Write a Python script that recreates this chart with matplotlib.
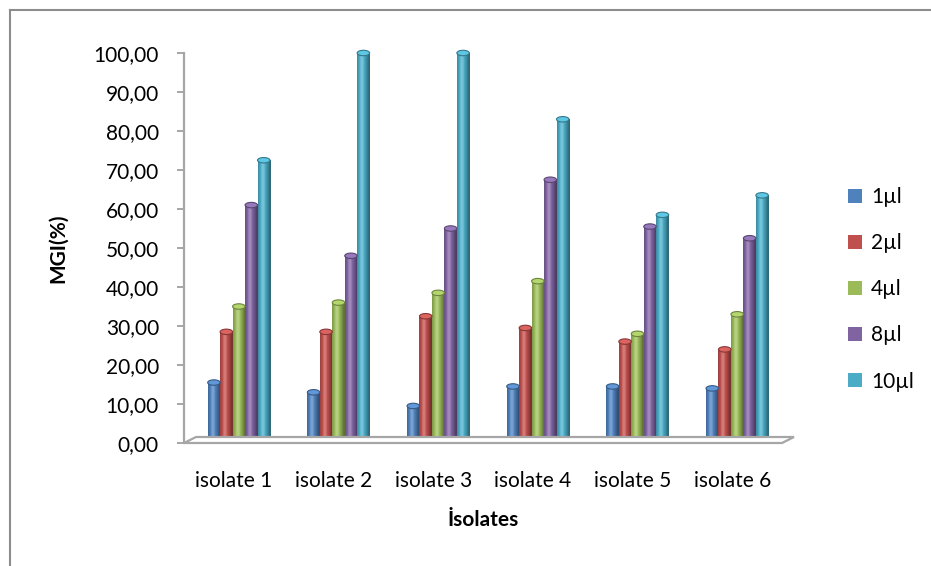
import numpy as np
import matplotlib
matplotlib.use("Agg")
import matplotlib.pyplot as plt
from matplotlib.patches import Ellipse, Polygon, Patch
from matplotlib.lines import Line2D
import matplotlib.transforms as mtransforms
from matplotlib.colors import to_rgb

plt.rcParams['font.family'] = ['Lato', 'DejaVu Sans']

# ---- data ----
isolates = ["isolate 1", "isolate 2", "isolate 3", "isolate 4", "isolate 5", "isolate 6"]
doses = ["1µl", "2µl", "4µl", "8µl", "10µl"]
mgi_1ul = [15.5, 13.0, 9.5, 14.5, 14.5, 14.0]
mgi_2ul = [28.5, 28.5, 32.5, 29.5, 26.0, 24.0]
mgi_4ul = [35.0, 36.0, 38.5, 41.5, 28.0, 33.0]
mgi_8ul = [61.0, 48.0, 55.0, 67.5, 55.5, 52.5]
mgi_10ul = [72.5, 100.0, 100.0, 83.0, 58.5, 63.5]
y_ticks = list(range(0, 101, 10))

series = [mgi_1ul, mgi_2ul, mgi_4ul, mgi_8ul, mgi_10ul]
colors = ["#4F81BD", "#C0504D", "#9BBB59", "#8064A2", "#4BACC6"]

W, H = 931, 566
fig = plt.figure(figsize=(W / 100, H / 100), dpi=100)
ax = fig.add_axes([184 / W, 123 / H, 598 / W, 390 / H])
ax.set_xlim(-0.5, len(isolates) - 0.5)
ax.set_ylim(0, 100)

# small shift so columns sit in the middle of the floor depth
shift = mtransforms.offset_copy(ax.transData, fig=fig, x=5, y=0, units='dots')

bw = 0.125
nser = len(series)
x = np.arange(len(isolates))


def shade(rgb, n=64):
    t = np.linspace(0, 1, n)
    light = np.cos((t - 0.38) * np.pi * 0.95)
    light = np.clip(light, 0, 1)
    base = np.array(rgb)
    cols = []
    for l in light:
        c = base * (0.62 + 0.42 * l)
        hl = max(0.0, l - 0.85) * 1.6
        c = c * (1 - hl) + hl
        cols.append(np.clip(c, 0, 1))
    return np.array(cols)[None, :, :]


ell_h = 1.4
for j, (vals, col) in enumerate(zip(series, colors)):
    rgb = to_rgb(col)
    grad = shade(rgb)
    xs = x + (j - (nser - 1) / 2) * bw
    bars = ax.bar(xs, vals, width=bw, color=col, linewidth=0, transform=shift,
                  zorder=3, clip_on=False)
    for rect, xc, v in zip(bars, xs, vals):
        im = ax.imshow(grad, extent=(xc - bw / 2, xc + bw / 2, 0, v),
                       aspect='auto', transform=shift, zorder=3.1,
                       interpolation='bilinear')
        im.set_clip_path(rect)
        et = Ellipse((xc, v), bw, ell_h,
                     facecolor=np.clip(np.array(rgb) * 1.08 + 0.05, 0, 1),
                     edgecolor=np.array(rgb) * 0.7, linewidth=0.8, transform=shift,
                     zorder=3.3, clip_on=False)
        ax.add_patch(et)

ax.set_xlim(-0.5, len(isolates) - 0.5)
ax.set_ylim(0, 100)

# floor of the plot area
off = mtransforms.offset_copy(ax.transAxes, fig=fig, x=12, y=6, units='dots')
p0 = ax.transAxes.transform((0, 0))
p1 = ax.transAxes.transform((1, 0))
p2 = off.transform((1, 0))
p3 = off.transform((0, 0))
floor = Polygon([p0, p1, p2, p3], closed=True, transform=None,
                facecolor='white', edgecolor='#A6A6A6', linewidth=1.6, zorder=1)
fig.add_artist(floor)

for s in ['top', 'right', 'bottom']:
    ax.spines[s].set_visible(False)
ax.spines['left'].set_color('#A6A6A6')
ax.spines['left'].set_linewidth(1.6)

ax.set_yticks(y_ticks)
ax.set_yticklabels([f"{v:.2f}".replace('.', ',') for v in y_ticks], fontsize=15)
ax.tick_params(axis='y', length=5, width=1.4, color='#A6A6A6', pad=13)
ax.set_xticks(x)
ax.set_xticklabels(isolates, fontsize=15)
ax.tick_params(axis='x', length=0, pad=20)

ax.set_ylabel("MGI(%)", fontsize=15, fontweight='bold')
ax.yaxis.set_label_coords(-0.194, 0.5)
ax.set_xlabel("İsolates", fontsize=15, fontweight='bold')
ax.xaxis.set_label_coords(0.5, -0.172)

handles = [Patch(facecolor=c, edgecolor='none') for c in colors]
fig.legend(handles, doses, loc='upper left', bbox_to_anchor=(840 / W, 1 - 179 / H),
           frameon=False, fontsize=15, handlelength=0.65, handleheight=0.65,
           handletextpad=0.45, labelspacing=1.25, borderaxespad=0)

# outer chart border
fig.add_artist(Line2D([10 / W, 10 / W], [0, 1 - 10 / H], color='#8C8C8C', linewidth=1.5,
                      transform=fig.transFigure))
fig.add_artist(Line2D([10 / W, 1], [1 - 10 / H, 1 - 10 / H], color='#8C8C8C', linewidth=1.5,
                      transform=fig.transFigure))

fig.savefig("out.png", dpi=100)
